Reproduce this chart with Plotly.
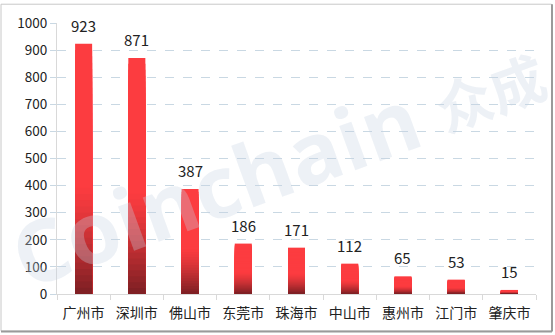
import plotly.graph_objects as go

cities = ["广州市", "深圳市", "佛山市", "东莞市", "珠海市", "中山市", "惠州市", "江门市", "肇庆市"]
values = [923, 871, 387, 186, 171, 112, 65, 53, 15]
y_ticks = [0, 100, 200, 300, 400, 500, 600, 700, 800, 900, 1000]

W, H = 555, 335
L, R, T, B = 57, 19, 20, 41

top_rgb = (252, 60, 64)
bot_rgb = (118, 30, 34)
N = 40

def mix(a, b, t):
    return "rgb(%d,%d,%d)" % tuple(round(a[i] + (b[i] - a[i]) * t) for i in range(3))

fig = go.Figure()
for k in range(N):
    frac = 1 - k / N  # layer height fraction
    pos_from_top = k / N
    if pos_from_top < 0.55:
        t = 0.0
    else:
        t = ((pos_from_top - 0.55) / 0.45) ** 1.3
    fig.add_trace(go.Bar(
        x=cities, y=[v * frac for v in values],
        marker=dict(color=mix(top_rgb, bot_rgb, t), line=dict(width=0)),
        showlegend=False, hoverinfo="skip"))

pw, ph = W - L - R, H - T - B

annotations = [
    dict(text="<b>Coinchain</b>", xref="paper", yref="paper", x=0.33, y=0.40,
         xanchor="center", yanchor="middle",
         showarrow=False, textangle=-20,
         font=dict(family="Open Sans", size=86, color="rgba(200,212,228,0.32)")),
    dict(text="<b>众成</b>", xref="paper", yref="paper", x=0.905, y=0.75,
         xanchor="center", yanchor="middle",
         showarrow=False, textangle=-20,
         font=dict(family="Noto Sans CJK SC", size=56, color="rgba(200,212,228,0.32)")),
]
for c, v in zip(cities, values):
    annotations.append(dict(
        x=c, y=v, xref="x", yref="y", text=str(v), showarrow=False,
        yanchor="bottom", yshift=6,
        font=dict(family="Noto Sans CJK SC", size=15, color="#222")))

fig.update_layout(
    width=W, height=H,
    margin=dict(l=L, r=R, t=T, b=B),
    paper_bgcolor="white", plot_bgcolor="white",
    barmode="overlay", bargap=0.68,
    font=dict(family="Noto Sans CJK SC", color="#222"),
    xaxis=dict(showline=True, linecolor="#d9d9d9", linewidth=1,
               ticks="outside", tickson="boundaries", ticklen=5, tickcolor="#d9d9d9",
               ticklabelstandoff=6,
               tickfont=dict(size=14, color="#222"), showgrid=False),
    yaxis=dict(range=[0, 1000], tickvals=y_ticks, showline=True, linecolor="#d9d9d9",
               ticks="outside", ticklen=6, tickcolor="#c9d8e3",
               tickfont=dict(size=13.5, color="#222"),
               showgrid=True, gridcolor="#c9d8e3", griddash="dash", gridwidth=1,
               zeroline=False),
    shapes=[
        dict(type="rect", xref="paper", yref="paper",
             x0=-(L - 1) / pw, x1=1 + (R - 3.5) / pw,
             y0=-(B - 3.5) / ph, y1=1 + (T - 1) / ph,
             line=dict(color="#c8c8c8", width=1)),
        dict(type="line", xref="paper", yref="paper",
             x0=1 + (R - 3) / pw, x1=1 + (R - 3) / pw,
             y0=-(B - 3) / ph, y1=1 + (T - 1) / ph,
             line=dict(color="#9a9a9a", width=2)),
        dict(type="line", xref="paper", yref="paper",
             x0=-(L - 1) / pw, x1=1 + (R - 3) / pw,
             y0=-(B - 3) / ph, y1=-(B - 3) / ph,
             line=dict(color="#9a9a9a", width=2)),
    ],
    annotations=annotations,
)

fig.write_html("out.html")
